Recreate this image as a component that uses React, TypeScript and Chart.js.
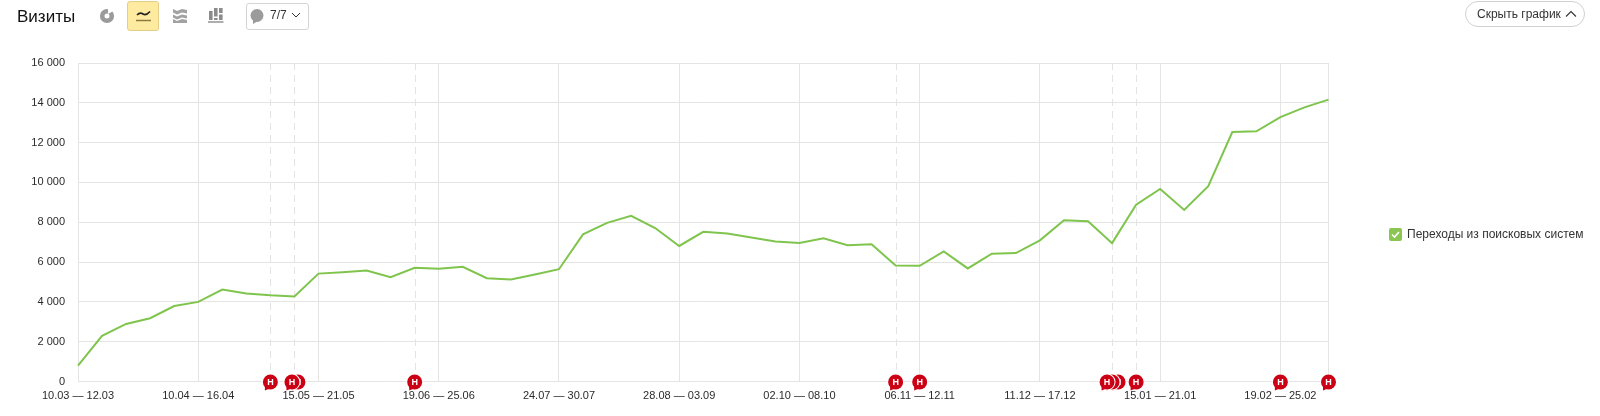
import React, { useEffect, useRef } from "react";
import { Chart, registerables } from "chart.js";

Chart.register(...registerables);

const FONT = '"Liberation Sans", Arial, sans-serif';

const weeks = [
  "10.03 — 12.03", "13.03 — 19.03", "20.03 — 26.03", "27.03 — 02.04", "03.04 — 09.04",
  "10.04 — 16.04", "17.04 — 23.04", "24.04 — 30.04", "01.05 — 07.05", "08.05 — 14.05",
  "15.05 — 21.05", "22.05 — 28.05", "29.05 — 04.06", "05.06 — 11.06", "12.06 — 18.06",
  "19.06 — 25.06", "26.06 — 02.07", "03.07 — 09.07", "10.07 — 16.07", "17.07 — 23.07",
  "24.07 — 30.07", "31.07 — 06.08", "07.08 — 13.08", "14.08 — 20.08", "21.08 — 27.08",
  "28.08 — 03.09", "04.09 — 10.09", "11.09 — 17.09", "18.09 — 24.09", "25.09 — 01.10",
  "02.10 — 08.10", "09.10 — 15.10", "16.10 — 22.10", "23.10 — 29.10", "30.10 — 05.11",
  "06.11 — 12.11", "13.11 — 19.11", "20.11 — 26.11", "27.11 — 03.12", "04.12 — 10.12",
  "11.12 — 17.12", "18.12 — 24.12", "25.12 — 31.12", "01.01 — 07.01", "08.01 — 14.01",
  "15.01 — 21.01", "22.01 — 28.01", "29.01 — 04.02", "05.02 — 11.02", "12.02 — 18.02",
  "19.02 — 25.02", "26.02 — 04.03", "05.03 — 07.03",
];

const visits = [
  800, 2290, 2890, 3180, 3790, 4000, 4620, 4420, 4330, 4270,
  5420, 5490, 5570, 5240, 5710, 5660, 5760, 5190, 5120, 5380,
  5640, 7390, 7970, 8320, 7710, 6810, 7520, 7440, 7230, 7030,
  6960, 7190, 6850, 6890, 5830, 5810, 6530, 5680, 6420, 6450,
  7090, 8100, 8050, 6950, 8880, 9670, 8620, 9810, 12530, 12570,
  13280, 13770, 14160,
];

const seriesName = "Переходы из поисковых систем";
const yTicks = { max: 16000, step: 2000 };
const labelEvery = 5;
const dashedAt = [8, 9, 14, 34, 43, 44];
const notesAt = [8, 9, 14, 34, 35, 43, 44, 50, 52];
const noteOffsets: Record<number, number[]> = { 9: [3.5, -2.5], 43: [6, 0, -5] };

const GRID = "#e4e4e4";
const LINE = "#7fc44c";
const NOTE = "#cc0014";

const notesPlugin = {
  id: "notes",
  beforeDatasetsDraw(chart: any) {
    const { ctx, scales, chartArea } = chart;
    ctx.save();
    ctx.strokeStyle = GRID;
    ctx.lineWidth = 1;
    ctx.setLineDash([7, 5]);
    dashedAt.forEach((i) => {
      const x = Math.round(scales.x.getPixelForValue(i)) + 0.5;
      ctx.beginPath();
      ctx.moveTo(x, chartArea.top);
      ctx.lineTo(x, chartArea.bottom);
      ctx.stroke();
    });
    ctx.restore();
  },
  afterDatasetsDraw(chart: any) {
    const { ctx, scales } = chart;
    const y = scales.y.getPixelForValue(0) + 0.5;
    ctx.save();
    notesAt.forEach((i) => {
      const base = scales.x.getPixelForValue(i);
      (noteOffsets[i] || [0]).forEach((off) => {
        const x = base + off;
        ctx.fillStyle = "#ffffff";
        ctx.beginPath();
        ctx.arc(x, y, 8.5, 0, Math.PI * 2);
        ctx.fill();
        ctx.fillStyle = NOTE;
        ctx.beginPath();
        ctx.arc(x, y, 7.5, 0, Math.PI * 2);
        ctx.fill();
        ctx.beginPath();
        ctx.moveTo(x - 5.5, y + 3);
        ctx.lineTo(x - 5.5, y + 8.5);
        ctx.lineTo(x - 0.5, y + 6.5);
        ctx.closePath();
        ctx.fill();
        ctx.fillStyle = "#ffffff";
        ctx.font = `bold 9px ${FONT}`;
        ctx.textAlign = "center";
        ctx.textBaseline = "middle";
        ctx.fillText("Н", x, y + 0.5);
      });
    });
    ctx.restore();
  },
};

const textStyle: React.CSSProperties = { position: "absolute", fontFamily: FONT, color: "#222", whiteSpace: "nowrap" };
const iconBase: React.CSSProperties = { position: "absolute" };

export default function App() {
  const ref = useRef<HTMLCanvasElement | null>(null);

  useEffect(() => {
    document.body.style.margin = "0";
    const chart = new Chart(ref.current as HTMLCanvasElement, {
      type: "line",
      data: {
        labels: weeks,
        datasets: [
          {
            label: seriesName,
            data: visits,
            borderColor: LINE,
            borderWidth: 2,
            pointRadius: 0,
            tension: 0,
            fill: false,
          },
        ],
      },
      options: {
        animation: false,
        responsive: false,
        maintainAspectRatio: false,
        layout: { padding: { top: 63, right: 271.5, bottom: 0, left: 0 } },
        plugins: { legend: { display: false }, tooltip: { enabled: false } },
        scales: {
          x: {
            type: "category",
            offset: false,
            border: { display: false },
            grid: {
              drawTicks: false,
              color: (c: any) => (c.index % labelEvery === 0 || c.index === weeks.length - 1 ? GRID : "rgba(0,0,0,0)"),
            },
            ticks: {
              autoSkip: false,
              maxRotation: 0,
              minRotation: 0,
              padding: 8,
              color: "#2b2b2b",
              font: { family: FONT, size: 11 },
              callback(this: any, v: any, i: number) {
                return i % labelEvery === 0 && i < weeks.length - 1 ? weeks[i] : "";
              },
            },
            afterFit: (s: any) => {
              s.height = 34.5;
            },
          },
          y: {
            min: 0,
            max: yTicks.max,
            border: { display: false },
            grid: { drawTicks: false, color: GRID },
            ticks: {
              stepSize: yTicks.step,
              padding: 13,
              color: "#2b2b2b",
              font: { family: FONT, size: 11 },
              callback: (v: any) => String(v).replace(/\B(?=(\d{3})+$)/g, " "),
            },
            afterFit: (s: any) => {
              s.width = 78;
            },
          },
        },
      },
      plugins: [notesPlugin],
    } as any);
    return () => chart.destroy();
  }, []);

  return (
    <div style={{ position: "absolute", left: 0, top: 0, width: 1600, height: 416, background: "#fff", overflow: "hidden" }}>
      <canvas ref={ref} width={1600} height={416} style={{ position: "absolute", left: 0, top: 0, width: 1600, height: 416 }} />

      <div style={{ ...textStyle, left: 17, top: 7, fontSize: 17, lineHeight: "19px", color: "#111" }}>Визиты</div>

      <svg style={{ ...iconBase, left: 99, top: 8 }} width="16" height="16" viewBox="0 0 16 16">
        <circle cx="8" cy="8" r="4.8" fill="none" stroke="#9b9b9b" strokeWidth="4.6" />
        <path d="M9 0 L9 6 L16 2 Z" fill="#fff" />
      </svg>

      <div style={{ position: "absolute", left: 127, top: 1, width: 30, height: 28, background: "#ffeba0", border: "1px solid #e3cd87", borderRadius: 3 }} />
      <svg style={{ ...iconBase, left: 135, top: 8 }} width="16" height="16" viewBox="0 0 16 16">
        <path d="M2 7 Q5 4 8 6 T15 3.5" fill="none" stroke="#222" strokeWidth="1.7" />
        <path d="M1 12.5 H16" stroke="#8a7a45" strokeWidth="1.5" />
      </svg>

      <svg style={{ ...iconBase, left: 172, top: 8 }} width="16" height="16" viewBox="0 0 16 16">
        <path d="M1 1 L5 3 L10 1 L15 2 V5.5 L10 4.5 L5 6.5 L1 4.5 Z" fill="#a2a2a2" />
        <path d="M1 6.5 L5 8.5 L10 6.5 L15 7.5 V10.5 L10 9.5 L5 11.5 L1 9.5 Z" fill="#a2a2a2" />
        <path d="M1 11 L5 13 L10 11 L15 12 V15 L1 15 Z" fill="#a2a2a2" />
      </svg>

      <svg style={{ ...iconBase, left: 208, top: 7 }} width="16" height="17" viewBox="0 0 16 17">
        <rect x="1" y="4" width="3.6" height="9" fill="#8c8c8c" />
        <rect x="6" y="1" width="3.6" height="8.5" fill="#8c8c8c" />
        <rect x="6" y="11" width="3.6" height="2" fill="#8c8c8c" />
        <rect x="11" y="1" width="3.6" height="5" fill="#8c8c8c" />
        <rect x="11" y="7.5" width="3.6" height="5.5" fill="#8c8c8c" />
        <path d="M0 15 H15.5" stroke="#8c8c8c" strokeWidth="1.4" />
      </svg>

      <div style={{ position: "absolute", left: 246, top: 3, width: 61, height: 25, border: "1px solid #d4d4d4", borderRadius: 3 }} />
      <svg style={{ ...iconBase, left: 248, top: 7 }} width="18" height="18" viewBox="0 0 18 18">
        <circle cx="9" cy="8.5" r="6.5" fill="#9b9b9b" />
        <path d="M5 12 L5 17 L10 14 Z" fill="#9b9b9b" />
      </svg>
      <div style={{ ...textStyle, left: 270, top: 8, fontSize: 12, lineHeight: "14px", color: "#333" }}>7/7</div>
      <svg style={{ ...iconBase, left: 291, top: 12 }} width="10" height="7" viewBox="0 0 10 7">
        <path d="M1 1 L5 5 L9 1" fill="none" stroke="#333" strokeWidth="1" />
      </svg>

      <div style={{ position: "absolute", left: 1465, top: 1, width: 118, height: 24, border: "1px solid #d0d0d0", borderRadius: 13 }} />
      <div style={{ ...textStyle, left: 1477, top: 7, fontSize: 12, lineHeight: "14px", color: "#333" }}>Скрыть график</div>
      <svg style={{ ...iconBase, left: 1565, top: 10 }} width="12" height="8" viewBox="0 0 12 8">
        <path d="M1 6.5 L6 1.5 L11 6.5" fill="none" stroke="#333" strokeWidth="1.1" />
      </svg>

      <div style={{ position: "absolute", left: 1389, top: 228, width: 13, height: 13, background: "#8bc653", borderRadius: 2 }} />
      <svg style={{ ...iconBase, left: 1389, top: 228 }} width="13" height="13" viewBox="0 0 13 13">
        <path d="M3 6.5 L5.5 9 L10 4" fill="none" stroke="#fff" strokeWidth="1.6" />
      </svg>
      <div style={{ ...textStyle, left: 1407, top: 227, fontSize: 12, lineHeight: "14px", color: "#333" }}>{seriesName}</div>
    </div>
  );
}
